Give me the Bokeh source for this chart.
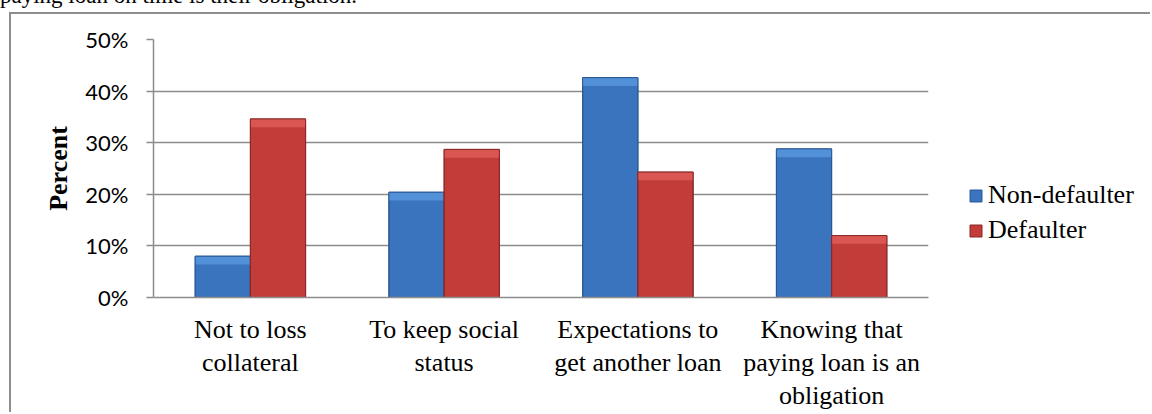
from bokeh.plotting import figure
from bokeh.models import (ColumnDataSource, FactorRange, Range1d, Legend, LegendItem,
                          PrintfTickFormatter, FixedTicker, Div)
from bokeh.transform import dodge
from bokeh.layouts import column, row
from bokeh.embed import file_html
from bokeh.resources import INLINE

# ---- data ----
categories = ["Not to loss\ncollateral", "To keep social\nstatus",
              "Expectations to\nget another loan", "Knowing that\npaying loan is an\nobligation"]
non_defaulter = [8.0, 20.4, 42.6, 28.8]
defaulter = [34.6, 28.7, 24.3, 12.0]
series_names = ["Non-defaulter", "Defaulter"]
y_ticks = [0, 10, 20, 30, 40, 50]
caption = "paying loan on time is their obligation."
y_label = "Percent"

BLUE, BLUE_HI, BLUE_LINE = "#3A73BE", "#5290D8", "#2A5894"
RED, RED_HI, RED_LINE = "#C23C39", "#DA5652", "#8A2826"
GREY = "#8c8c8c"
BORDER = "2px solid #8e8e8e"

BAND = 1.6  # height of the bevel highlight (percent units)
src = ColumnDataSource(dict(
    cat=categories,
    nd=non_defaulter,
    d=defaulter,
    nd_hi=[v - BAND for v in non_defaulter],
    d_hi=[v - BAND for v in defaulter],
))

p = figure(x_range=FactorRange(*categories, range_padding=0), y_range=Range1d(0, 50),
           width=929, height=400, output_backend="svg", toolbar_location=None,
           min_border_left=142, min_border_right=12, min_border_top=25, min_border_bottom=117,
           margin=(0, 0, 0, 9))
p.outline_line_color = None
p.background_fill_color = "white"
p.border_fill_color = "white"

W = 0.285
OFF = 0.1425
xb = dodge("cat", -OFF, range=p.x_range)
xr = dodge("cat", OFF, range=p.x_range)
p.vbar(x=xb, top="nd", bottom=0, width=W, source=src,
       fill_color=BLUE, line_color=BLUE_LINE, line_width=1)
p.vbar(x=xb, top="nd", bottom="nd_hi", width=W, source=src,
       fill_color=BLUE_HI, line_color=None)
p.vbar(x=xb, top="nd", bottom=0, width=W, source=src,
       fill_alpha=0, line_color=BLUE_LINE, line_width=1)
p.vbar(x=xr, top="d", bottom=0, width=W, source=src,
       fill_color=RED, line_color=RED_LINE, line_width=1)
p.vbar(x=xr, top="d", bottom="d_hi", width=W, source=src,
       fill_color=RED_HI, line_color=None)
p.vbar(x=xr, top="d", bottom=0, width=W, source=src,
       fill_alpha=0, line_color=RED_LINE, line_width=1)

p.xgrid.grid_line_color = None
p.ygrid.grid_line_color = GREY
p.ygrid.grid_line_width = 1.5
p.ygrid.ticker = FixedTicker(ticks=y_ticks)

p.yaxis.ticker = FixedTicker(ticks=y_ticks)
p.yaxis.formatter = PrintfTickFormatter(format="%d%%")
p.yaxis.major_label_text_font = "Lato"
p.yaxis.major_label_text_font_size = "22px"
p.yaxis.major_label_text_color = "black"
p.yaxis.major_tick_out = 7
p.yaxis.major_tick_in = 0
p.yaxis.minor_tick_out = 0
p.yaxis.minor_tick_in = 0
p.yaxis.major_label_standoff = 18
p.yaxis.axis_line_color = GREY
p.yaxis.axis_line_width = 1.5
p.yaxis.major_tick_line_color = GREY
p.yaxis.major_tick_line_width = 1.5
p.yaxis.axis_label = y_label
p.yaxis.axis_label_text_font = "Liberation Serif"
p.yaxis.axis_label_text_font_style = "bold"
p.yaxis.axis_label_text_font_size = "26px"
p.yaxis.axis_label_text_color = "black"
p.yaxis.axis_label_standoff = 9

p.xaxis.major_tick_out = 0
p.xaxis.major_tick_in = 0
p.xaxis.axis_line_color = GREY
p.xaxis.axis_line_width = 1.5
p.xaxis.major_label_text_font = "Liberation Serif"
p.xaxis.major_label_text_font_size = "26px"
p.xaxis.major_label_text_color = "black"
p.xaxis.major_label_text_line_height = 1.15
p.xaxis.major_label_standoff = 17

p.styles = {"border-left": BORDER, "border-top": BORDER}

# ---- legend panel (separate canvas to the right of the plot area) ----
lf = figure(width=212, height=400, output_backend="svg", toolbar_location=None,
            x_range=Range1d(0, 1), y_range=Range1d(0, 1),
            min_border=0, x_axis_location=None, y_axis_location=None)
lf.outline_line_color = None
lf.grid.visible = False
lf.background_fill_color = "white"
lf.border_fill_color = "white"
# legend swatches: hidden copies of the two series (only their legend glyphs show)
lr1 = lf.vbar(x="nd", top="nd", width=0.1, source=src,
              fill_color=BLUE, line_color=BLUE_LINE, visible=False)
lr2 = lf.vbar(x="d", top="d", width=0.1, source=src,
              fill_color=RED, line_color=RED_LINE, visible=False)
legend = Legend(items=[LegendItem(label=series_names[0], renderers=[lr1]),
                       LegendItem(label=series_names[1], renderers=[lr2])],
                location=(30, 52), orientation="vertical")
legend.label_text_font = "Liberation Serif"
legend.label_text_font_size = "26px"
legend.label_text_color = "black"
legend.glyph_width = 15
legend.glyph_height = 15
legend.label_height = 26
legend.spacing = 5
legend.padding = 0
legend.margin = 0
legend.label_standoff = 5
legend.border_line_color = None
legend.background_fill_alpha = 0
legend.inactive_fill_alpha = 0
lf.add_layout(legend)
lf.styles = {"border-top": BORDER}

div = Div(text=('<div style="position:relative; top:-16px; font-family:\'Liberation Serif\'; '
                'font-size:23px; line-height:23px; white-space:nowrap; color:black;">'
                + caption + '</div>'),
          width=1152, height=12, margin=0, styles={"overflow": "visible"})

layout = column(div, row(p, lf, spacing=0, margin=0), spacing=0, margin=0)

open("out.html", "w").write(file_html(layout, INLINE))
